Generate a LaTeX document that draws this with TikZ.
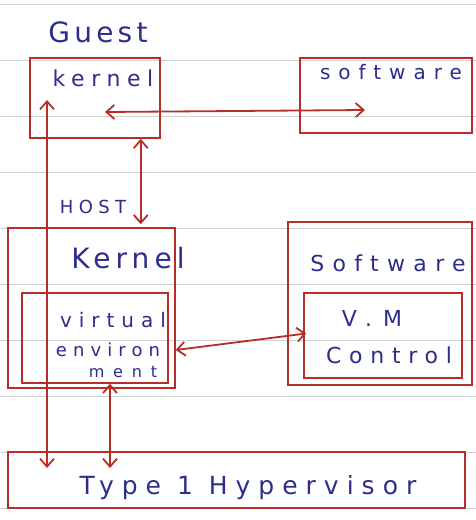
\documentclass[tikz,border=0pt]{standalone}
\usepackage{fontspec}
\usetikzlibrary{arrows.meta}
\newfontfamily\hw{DejaVu Sans}
\definecolor{ink}{RGB}{45,45,140}
\definecolor{pen}{RGB}{185,45,40}
\definecolor{ruling}{RGB}{210,210,210}
\begin{document}
\begin{tikzpicture}[x=1pt,y=-1pt,
  box/.style={draw=pen, line width=1.5pt, inner sep=0pt},
  txt/.style={text=ink, inner sep=0pt},
  dbl/.style={draw=pen, line width=1.8pt, {Straight Barb[length=8pt,width=14pt]}-{Straight Barb[length=8pt,width=14pt]}}]
\useasboundingbox (0,0) rectangle (476,520);
\fill[white] (0,0) rectangle (476,520);
% notebook ruling
\foreach \yy in {4,60,116,172,228,284,340,396,452,508}
  \draw[ruling, line width=0.8pt] (0,\yy) -- (476,\yy);
% boxes
\node[box, minimum width=130pt, minimum height=80pt] (guestk) at (95,98) {};
\node[box, minimum width=172pt, minimum height=75pt] (sw1) at (386,95.5) {};
\node[box, minimum width=167pt, minimum height=160pt] (host) at (91.5,308) {};
\node[box, minimum width=146pt, minimum height=90pt] (venv) at (95,338) {};
\node[box, minimum width=184pt, minimum height=163pt] (sw2) at (380,303.5) {};
\node[box, minimum width=158pt, minimum height=85pt] (vmc) at (383,335.5) {};
\node[box, minimum width=457pt, minimum height=56pt] (hyp) at (236.5,480) {};
% texts
\node[txt, font={\hw\fontsize{28}{32}\selectfont\addfontfeatures{LetterSpace=15}}] (tguest) at (98,32) {Guest};
\node[txt, font={\hw\fontsize{22}{26}\selectfont\addfontfeatures{LetterSpace=30}}] (tkern) at (103,78) {kernel};
\node[txt, font={\hw\fontsize{20}{24}\selectfont\addfontfeatures{LetterSpace=40}}] (tsw1) at (391,72) {software};
\node[txt, font={\hw\fontsize{18}{22}\selectfont\addfontfeatures{LetterSpace=30}}] (thost) at (93,207) {HOST};
\node[txt, font={\hw\fontsize{28}{32}\selectfont\addfontfeatures{LetterSpace=18}}] (tkern2) at (128,258) {Kernel};
\node[txt, font={\hw\fontsize{22}{26}\selectfont\addfontfeatures{LetterSpace=38}}] (tsw2) at (388,263) {Software};
\node[txt, font={\hw\fontsize{20}{24}\selectfont\addfontfeatures{LetterSpace=35}}] (tvirt) at (113,320) {virtual};
\node[txt, font={\hw\fontsize{18}{22}\selectfont\addfontfeatures{LetterSpace=34}}] (tenv) at (108,350) {environ};
\node[txt, font={\hw\fontsize{16}{20}\selectfont\addfontfeatures{LetterSpace=55}}] (tment) at (123,372) {ment};
\node[txt, font={\hw\fontsize{22}{26}\selectfont\addfontfeatures{LetterSpace=50}}] (tvm) at (372,318) {V.M};
\node[txt, font={\hw\fontsize{22}{26}\selectfont\addfontfeatures{LetterSpace=35}}] (tctl) at (389,355) {Control};
\node[txt, font={\hw\fontsize{25}{29}\selectfont\addfontfeatures{LetterSpace=32}}] (thyp) at (248,488) {Type 1 Hypervisor};
% free ends
\coordinate (gin) at (105,112);
\coordinate (sin) at (365,110);
\coordinate (gup) at (47,100);
\coordinate (hdown) at (47,468);
\coordinate (hdown2) at (110,468);
% connectors
\draw[dbl] (gin) -- (sin);
\draw[dbl] (gup) -- (hdown);
\draw[dbl] ([xshift=-20pt]guestk.south east) -- ([xshift=-35pt,yshift=3pt]host.north east);
\draw[dbl] ([xshift=7pt,yshift=-12pt]venv.east) -- ([xshift=3pt,yshift=2pt]vmc.west);
\draw[dbl] (venv.south -| hdown2) -- (hdown2);
\end{tikzpicture}
\end{document}
